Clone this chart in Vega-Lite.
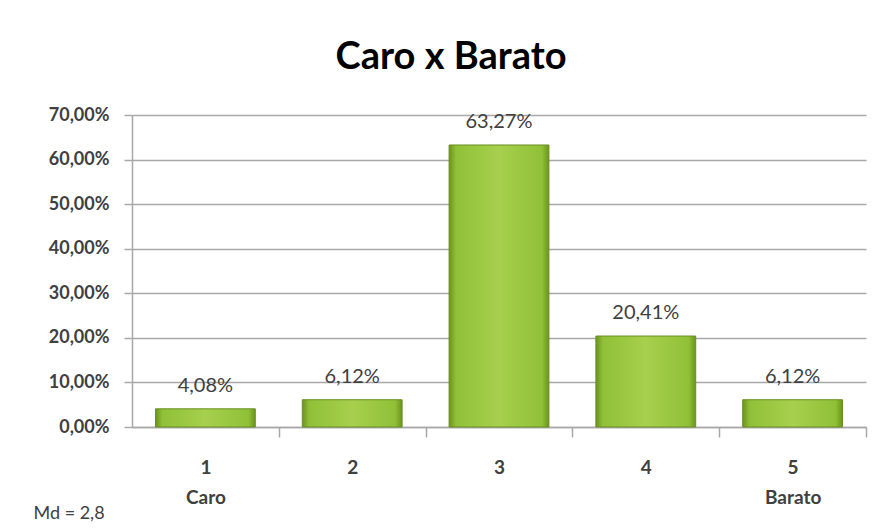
{
  "$schema": "https://vega.github.io/schema/vega-lite/v6.json",
  "autosize": "none",
  "width": 734,
  "height": 312,
  "padding": {"left": 132, "top": 115, "right": 20, "bottom": 104},
  "background": "white",
  "config": {
    "locale": {"number": {"decimal": ",", "thousands": ".", "grouping": [3], "currency": ["R$", ""]}},
    "view": {"stroke": null},
    "font": "Lato"
  },
  "title": {
    "text": "Caro x Barato",
    "font": "Lato",
    "fontSize": 38,
    "fontWeight": "bold",
    "color": "#000000",
    "anchor": "middle",
    "dx": -48,
    "offset": 29
  },
  "data": {
    "values": [
      {"cat": "1", "pct": 0.0408},
      {"cat": "2", "pct": 0.0612},
      {"cat": "3", "pct": 0.6327},
      {"cat": "4", "pct": 0.2041},
      {"cat": "5", "pct": 0.0612}
    ]
  },
  "encoding": {
    "x": {"field": "cat", "type": "nominal", "sort": null,
      "scale": {"paddingInner": 0.32, "paddingOuter": 0.16},
      "axis": {
        "labelAngle": 0,
        "labelExpr": "datum.value == '1' ? ['1', 'Caro'] : datum.value == '5' ? ['5', 'Barato'] : datum.value",
        "labelFont": "Lato", "labelFontSize": 19, "labelFontWeight": "bold",
        "labelColor": "#404040", "labelPadding": 30, "labelLineHeight": 30,
        "labelBaseline": "middle",
        "ticks": true, "tickSize": 10, "tickColor": "#a8a8a8", "tickWidth": 1.5,
        "tickOffset": 73.4, "labelOffset": -73.4,
        "domain": true, "domainColor": "#a8a8a8", "domainWidth": 1.5,
        "title": "Md = 2,8", "titleAnchor": "start", "titleAlign": "left",
        "titleX": -99, "titleY": 86, "titleBaseline": "middle",
        "titleFont": "Lato", "titleFontSize": 18, "titleFontWeight": "normal",
        "titleColor": "#404040"
      }
    },
    "y": {"field": "pct", "type": "quantitative",
      "scale": {"domain": [0, 0.7], "nice": false},
      "axis": {
        "values": [0, 0.1, 0.2, 0.3, 0.4, 0.5, 0.6, 0.7],
        "format": ".2%",
        "title": null,
        "labelFont": "Lato", "labelFontSize": 18, "labelFontWeight": "bold",
        "labelColor": "#404040", "labelPadding": 15,
        "tickSize": 8, "tickColor": "#a8a8a8", "tickWidth": 1.5,
        "domainColor": "#a8a8a8", "domainWidth": 1.5,
        "grid": true, "gridColor": "#a8a8a8", "gridWidth": 1.5
      }
    }
  },
  "layer": [
    {
      "mark": {
        "type": "bar",
        "color": {
          "gradient": "linear", "x1": 0, "x2": 1, "y1": 0, "y2": 0,
          "stops": [
            {"offset": 0, "color": "#6a941b"},
            {"offset": 0.07, "color": "#90c038"},
            {"offset": 0.5, "color": "#a6d04e"},
            {"offset": 0.93, "color": "#90c038"},
            {"offset": 1, "color": "#6a941b"}
          ]
        },
        "stroke": "#6b8f22",
        "strokeWidth": 1
      }
    },
    {
      "mark": {"type": "text", "baseline": "alphabetic", "dy": -17, "font": "Lato", "fontSize": 20, "color": "#404040"},
      "encoding": {
        "text": {"field": "pct", "type": "quantitative", "format": ".2%"}
      }
    }
  ]
}
